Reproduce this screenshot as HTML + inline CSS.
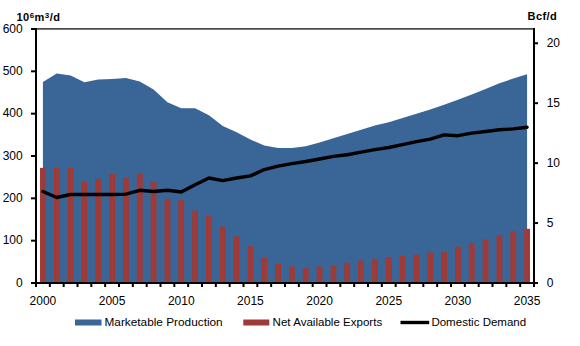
<!DOCTYPE html>
<html><head><meta charset="utf-8"><style>
html,body{margin:0;padding:0;background:#fff;}
svg{display:block;}
text{font-family:"Liberation Sans",sans-serif;fill:#000;}
.ax{font-size:12px;}
.un{font-size:11px;font-weight:bold;letter-spacing:0.45px;}
.lg{font-size:11.8px;}
</style></head><body>
<svg width="580" height="346" viewBox="0 0 580 346">
<rect width="580" height="346" fill="#fff"/>
<polygon points="42.92,283.00 42.92,81.92 56.75,73.45 70.58,75.57 84.42,82.34 98.25,79.38 112.08,78.95 125.92,78.11 139.75,81.49 153.58,89.54 167.42,102.24 181.25,108.16 195.08,108.16 208.92,115.36 222.75,125.94 236.58,132.29 250.42,139.49 264.25,145.42 278.08,147.96 291.92,147.96 305.75,146.26 319.58,142.45 333.42,138.22 347.25,133.99 361.08,129.75 374.92,125.52 388.75,122.13 402.58,117.90 416.42,113.67 430.25,109.43 444.08,104.78 457.92,99.70 471.75,94.62 485.58,89.11 499.42,83.19 513.25,78.53 527.08,74.30 527.08,283.00" fill="#3A6597"/>
<rect x="40.02" y="167.85" width="5.8" height="115.15" fill="#9E3A38"/>
<rect x="53.85" y="167.85" width="5.8" height="115.15" fill="#9E3A38"/>
<rect x="67.68" y="167.85" width="5.8" height="115.15" fill="#9E3A38"/>
<rect x="81.52" y="181.82" width="5.8" height="101.18" fill="#9E3A38"/>
<rect x="95.35" y="178.86" width="5.8" height="104.14" fill="#9E3A38"/>
<rect x="109.18" y="173.78" width="5.8" height="109.22" fill="#9E3A38"/>
<rect x="123.02" y="178.01" width="5.8" height="104.99" fill="#9E3A38"/>
<rect x="136.85" y="173.36" width="5.8" height="109.64" fill="#9E3A38"/>
<rect x="150.68" y="181.40" width="5.8" height="101.60" fill="#9E3A38"/>
<rect x="164.52" y="198.76" width="5.8" height="84.24" fill="#9E3A38"/>
<rect x="178.35" y="200.03" width="5.8" height="82.97" fill="#9E3A38"/>
<rect x="192.18" y="210.61" width="5.8" height="72.39" fill="#9E3A38"/>
<rect x="206.02" y="216.11" width="5.8" height="66.89" fill="#9E3A38"/>
<rect x="219.85" y="226.70" width="5.8" height="56.30" fill="#9E3A38"/>
<rect x="233.68" y="236.43" width="5.8" height="46.57" fill="#9E3A38"/>
<rect x="247.52" y="246.17" width="5.8" height="36.83" fill="#9E3A38"/>
<rect x="261.35" y="258.02" width="5.8" height="24.98" fill="#9E3A38"/>
<rect x="275.18" y="263.95" width="5.8" height="19.05" fill="#9E3A38"/>
<rect x="289.02" y="266.49" width="5.8" height="16.51" fill="#9E3A38"/>
<rect x="302.85" y="268.18" width="5.8" height="14.82" fill="#9E3A38"/>
<rect x="316.68" y="266.49" width="5.8" height="16.51" fill="#9E3A38"/>
<rect x="330.52" y="265.64" width="5.8" height="17.36" fill="#9E3A38"/>
<rect x="344.35" y="262.68" width="5.8" height="20.32" fill="#9E3A38"/>
<rect x="358.18" y="260.56" width="5.8" height="22.44" fill="#9E3A38"/>
<rect x="372.02" y="259.29" width="5.8" height="23.71" fill="#9E3A38"/>
<rect x="385.85" y="257.18" width="5.8" height="25.82" fill="#9E3A38"/>
<rect x="399.68" y="255.91" width="5.8" height="27.09" fill="#9E3A38"/>
<rect x="413.52" y="254.64" width="5.8" height="28.36" fill="#9E3A38"/>
<rect x="427.35" y="252.52" width="5.8" height="30.48" fill="#9E3A38"/>
<rect x="441.18" y="252.10" width="5.8" height="30.90" fill="#9E3A38"/>
<rect x="455.02" y="246.59" width="5.8" height="36.41" fill="#9E3A38"/>
<rect x="468.85" y="243.21" width="5.8" height="39.79" fill="#9E3A38"/>
<rect x="482.68" y="239.40" width="5.8" height="43.60" fill="#9E3A38"/>
<rect x="496.52" y="235.16" width="5.8" height="47.84" fill="#9E3A38"/>
<rect x="510.35" y="231.35" width="5.8" height="51.65" fill="#9E3A38"/>
<rect x="524.18" y="228.81" width="5.8" height="54.19" fill="#9E3A38"/>
<polyline points="42.92,191.56 56.75,197.49 70.58,194.52 84.42,194.52 98.25,194.52 112.08,194.52 125.92,194.10 139.75,190.29 153.58,191.56 167.42,190.29 181.25,191.98 195.08,184.79 208.92,178.01 222.75,180.55 236.58,178.01 250.42,175.90 264.25,169.55 278.08,166.16 291.92,163.62 305.75,161.50 319.58,158.96 333.42,156.42 347.25,154.73 361.08,152.19 374.92,149.65 388.75,147.53 402.58,144.57 416.42,141.61 430.25,139.07 444.08,134.83 457.92,135.68 471.75,133.14 485.58,131.45 499.42,129.75 513.25,128.91 527.08,127.21" fill="none" stroke="#000" stroke-width="3.4" stroke-linejoin="round" stroke-linecap="round"/>
<line x1="36.0" y1="28.9" x2="534.0" y2="28.9" stroke="#4d4d4d" stroke-width="1.8"/>
<line x1="36.0" y1="28" x2="36.0" y2="284" stroke="#000" stroke-width="2"/>
<line x1="534.0" y1="28" x2="534.0" y2="284" stroke="#000" stroke-width="2"/>
<line x1="31" y1="283.0" x2="538" y2="283.0" stroke="#000" stroke-width="2"/>
<line x1="31" y1="283.00" x2="36.0" y2="283.00" stroke="#000" stroke-width="2"/>
<line x1="31" y1="240.67" x2="36.0" y2="240.67" stroke="#000" stroke-width="2"/>
<line x1="31" y1="198.33" x2="36.0" y2="198.33" stroke="#000" stroke-width="2"/>
<line x1="31" y1="156.00" x2="36.0" y2="156.00" stroke="#000" stroke-width="2"/>
<line x1="31" y1="113.67" x2="36.0" y2="113.67" stroke="#000" stroke-width="2"/>
<line x1="31" y1="71.33" x2="36.0" y2="71.33" stroke="#000" stroke-width="2"/>
<line x1="31" y1="29.00" x2="36.0" y2="29.00" stroke="#000" stroke-width="2"/>
<line x1="534.0" y1="283.00" x2="538" y2="283.00" stroke="#000" stroke-width="2"/>
<line x1="534.0" y1="223.06" x2="538" y2="223.06" stroke="#000" stroke-width="2"/>
<line x1="534.0" y1="163.13" x2="538" y2="163.13" stroke="#000" stroke-width="2"/>
<line x1="534.0" y1="103.19" x2="538" y2="103.19" stroke="#000" stroke-width="2"/>
<line x1="534.0" y1="43.25" x2="538" y2="43.25" stroke="#000" stroke-width="2"/>
<line x1="36.00" y1="283.0" x2="36.00" y2="287" stroke="#000" stroke-width="2"/>
<line x1="49.83" y1="283.0" x2="49.83" y2="287" stroke="#000" stroke-width="2"/>
<line x1="63.67" y1="283.0" x2="63.67" y2="287" stroke="#000" stroke-width="2"/>
<line x1="77.50" y1="283.0" x2="77.50" y2="287" stroke="#000" stroke-width="2"/>
<line x1="91.33" y1="283.0" x2="91.33" y2="287" stroke="#000" stroke-width="2"/>
<line x1="105.17" y1="283.0" x2="105.17" y2="287" stroke="#000" stroke-width="2"/>
<line x1="119.00" y1="283.0" x2="119.00" y2="287" stroke="#000" stroke-width="2"/>
<line x1="132.83" y1="283.0" x2="132.83" y2="287" stroke="#000" stroke-width="2"/>
<line x1="146.67" y1="283.0" x2="146.67" y2="287" stroke="#000" stroke-width="2"/>
<line x1="160.50" y1="283.0" x2="160.50" y2="287" stroke="#000" stroke-width="2"/>
<line x1="174.33" y1="283.0" x2="174.33" y2="287" stroke="#000" stroke-width="2"/>
<line x1="188.17" y1="283.0" x2="188.17" y2="287" stroke="#000" stroke-width="2"/>
<line x1="202.00" y1="283.0" x2="202.00" y2="287" stroke="#000" stroke-width="2"/>
<line x1="215.83" y1="283.0" x2="215.83" y2="287" stroke="#000" stroke-width="2"/>
<line x1="229.67" y1="283.0" x2="229.67" y2="287" stroke="#000" stroke-width="2"/>
<line x1="243.50" y1="283.0" x2="243.50" y2="287" stroke="#000" stroke-width="2"/>
<line x1="257.33" y1="283.0" x2="257.33" y2="287" stroke="#000" stroke-width="2"/>
<line x1="271.17" y1="283.0" x2="271.17" y2="287" stroke="#000" stroke-width="2"/>
<line x1="285.00" y1="283.0" x2="285.00" y2="287" stroke="#000" stroke-width="2"/>
<line x1="298.83" y1="283.0" x2="298.83" y2="287" stroke="#000" stroke-width="2"/>
<line x1="312.67" y1="283.0" x2="312.67" y2="287" stroke="#000" stroke-width="2"/>
<line x1="326.50" y1="283.0" x2="326.50" y2="287" stroke="#000" stroke-width="2"/>
<line x1="340.33" y1="283.0" x2="340.33" y2="287" stroke="#000" stroke-width="2"/>
<line x1="354.17" y1="283.0" x2="354.17" y2="287" stroke="#000" stroke-width="2"/>
<line x1="368.00" y1="283.0" x2="368.00" y2="287" stroke="#000" stroke-width="2"/>
<line x1="381.83" y1="283.0" x2="381.83" y2="287" stroke="#000" stroke-width="2"/>
<line x1="395.67" y1="283.0" x2="395.67" y2="287" stroke="#000" stroke-width="2"/>
<line x1="409.50" y1="283.0" x2="409.50" y2="287" stroke="#000" stroke-width="2"/>
<line x1="423.33" y1="283.0" x2="423.33" y2="287" stroke="#000" stroke-width="2"/>
<line x1="437.17" y1="283.0" x2="437.17" y2="287" stroke="#000" stroke-width="2"/>
<line x1="451.00" y1="283.0" x2="451.00" y2="287" stroke="#000" stroke-width="2"/>
<line x1="464.83" y1="283.0" x2="464.83" y2="287" stroke="#000" stroke-width="2"/>
<line x1="478.67" y1="283.0" x2="478.67" y2="287" stroke="#000" stroke-width="2"/>
<line x1="492.50" y1="283.0" x2="492.50" y2="287" stroke="#000" stroke-width="2"/>
<line x1="506.33" y1="283.0" x2="506.33" y2="287" stroke="#000" stroke-width="2"/>
<line x1="520.17" y1="283.0" x2="520.17" y2="287" stroke="#000" stroke-width="2"/>
<line x1="534.00" y1="283.0" x2="534.00" y2="287" stroke="#000" stroke-width="2"/>
<text x="22.7" y="286.60" text-anchor="end" class="ax">0</text>
<text x="22.7" y="244.27" text-anchor="end" class="ax">100</text>
<text x="22.7" y="201.93" text-anchor="end" class="ax">200</text>
<text x="22.7" y="159.60" text-anchor="end" class="ax">300</text>
<text x="22.7" y="117.27" text-anchor="end" class="ax">400</text>
<text x="22.7" y="74.93" text-anchor="end" class="ax">500</text>
<text x="22.7" y="32.60" text-anchor="end" class="ax">600</text>
<text x="546.7" y="286.60" class="ax">0</text>
<text x="546.7" y="226.66" class="ax">5</text>
<text x="546.7" y="166.73" class="ax">10</text>
<text x="546.7" y="106.79" class="ax">15</text>
<text x="546.7" y="46.85" class="ax">20</text>
<text x="42.92" y="305" text-anchor="middle" class="ax">2000</text>
<text x="112.08" y="305" text-anchor="middle" class="ax">2005</text>
<text x="181.25" y="305" text-anchor="middle" class="ax">2010</text>
<text x="250.42" y="305" text-anchor="middle" class="ax">2015</text>
<text x="319.58" y="305" text-anchor="middle" class="ax">2020</text>
<text x="388.75" y="305" text-anchor="middle" class="ax">2025</text>
<text x="457.92" y="305" text-anchor="middle" class="ax">2030</text>
<text x="527.08" y="305" text-anchor="middle" class="ax">2035</text>
<text x="16.5" y="21.3" class="un">10<tspan dy="-3.4" font-size="8">6</tspan><tspan dy="3.4">m</tspan><tspan dy="-3.4" font-size="8">3</tspan><tspan dy="3.4">/d</tspan></text>
<text x="527.5" y="19.6" class="un">Bcf/d</text>
<rect x="75" y="319.5" width="26.5" height="6" fill="#3A6597"/>
<text x="104.5" y="325.5" class="lg" textLength="118.2" lengthAdjust="spacingAndGlyphs">Marketable Production</text>
<rect x="243.3" y="319.5" width="26" height="6" fill="#9E3A38"/>
<text x="272.6" y="325.5" class="lg" textLength="109.6" lengthAdjust="spacingAndGlyphs">Net Available Exports</text>
<line x1="400.5" y1="322.5" x2="429.2" y2="322.5" stroke="#000" stroke-width="3.4"/>
<text x="431.4" y="325.5" class="lg" textLength="94.8" lengthAdjust="spacingAndGlyphs">Domestic Demand</text>
</svg>
</body></html>
